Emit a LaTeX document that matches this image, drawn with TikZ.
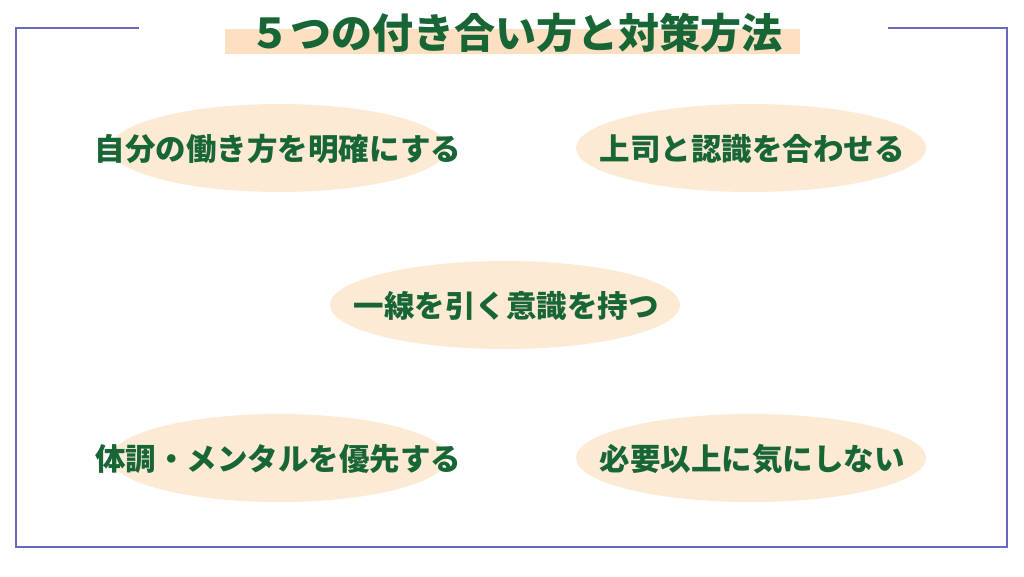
\documentclass[tikz,border=0pt]{standalone}
\usepackage{fontspec}
\newfontfamily\jpfont{Noto Sans CJK JP}
\definecolor{tgreen}{RGB}{24,102,54}
\definecolor{peach}{RGB}{253,234,213}
\definecolor{bandpeach}{RGB}{253,224,193}
\definecolor{framecol}{RGB}{104,104,192}
\pgfdeclareradialshading{softpeach}{\pgfpointorigin}{color(0bp)=(peach); color(26bp)=(peach); color(40bp)=(peach!75!white); color(47bp)=(peach!35!white); color(50bp)=(white)}
\begin{document}
\begin{tikzpicture}[x=1pt,y=-1pt,
    lbl/.style={anchor=base,text=tgreen,font=\jpfont\bfseries\fontsize{30.5pt}{30.5pt}\selectfont,inner sep=0pt}]
                \useasboundingbox[fill=white] (0,0) rectangle (1024,576);
                % frame
                \draw[framecol,line width=1.2pt] (139,28) -- (16,28) -- (16,547) -- (1007,547) -- (1007,28) -- (888,28);
                % title
                \fill[bandpeach] (225,29) rectangle (800,54);
                \node[lbl,font=\jpfont\bfseries\fontsize{41pt}{41pt}\selectfont] (title) at (516,48) {５つの付き合い方と対策方法};
                % ellipses
                \shade[shading=softpeach] (279,148) ellipse [x radius=168,y radius=44];
                \shade[shading=softpeach] (751,148) ellipse [x radius=175,y radius=44];
                \shade[shading=softpeach] (505,305) ellipse [x radius=175,y radius=44];
                \shade[shading=softpeach] (279,458) ellipse [x radius=168,y radius=44];
                \shade[shading=softpeach] (751,458) ellipse [x radius=175,y radius=44];
                % labels
                \node[lbl] (own) at (278,160) {自分の働き方を明確にする};
                \node[lbl] (boss) at (752,160) {上司と認識を合わせる};
                \node[lbl] (line) at (506,317) {一線を引く意識を持つ};
                \node[lbl] (health) at (278,470) {体調・メンタルを優先する};
                \node[lbl] (mind) at (752,470) {必要以上に気にしない};
            \end{tikzpicture}
\end{document}
